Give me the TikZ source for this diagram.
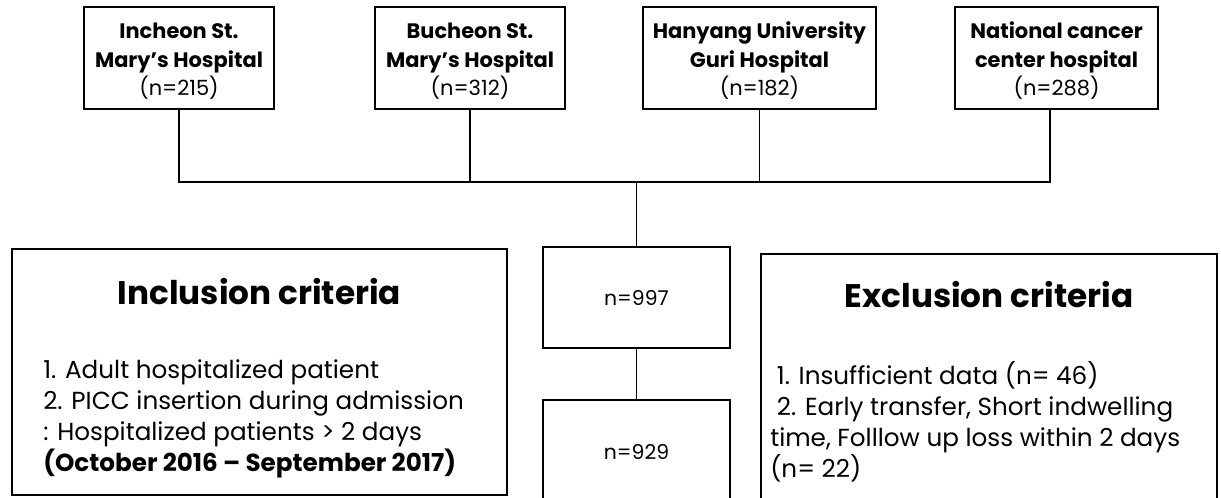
\documentclass[tikz,border=0pt]{standalone}
\usepackage{fontspec}
\setmainfont{Poppins}
\usetikzlibrary{positioning}

\begin{document}
\begin{tikzpicture}[x=0.75pt, y=-0.75pt,
    site/.style={draw, line width=1.3pt, minimum height=76.5pt, align=center,
                 font=\fontsize{15.7}{21.4}\selectfont, inner sep=0pt},
    count/.style={draw, line width=1.3pt, minimum width=140pt, align=center,
                  font=\fontsize{15.3}{18}\selectfont, inner sep=0pt},
    critbox/.style={draw, line width=1.3pt, inner sep=0pt},
    crittitle/.style={font=\bfseries\fontsize{24.5}{28}\selectfont, inner sep=0pt},
    critbody/.style={align=left, anchor=north west, inner sep=0pt, font=\fontsize{18.5}{23.25}\selectfont},
    link/.style={line width=0.8pt}]

        \useasboundingbox (0,0) rectangle (1221,497);

        % Hospitals
        \node[site, minimum width=142.5pt] (inch) at (179,58) {\rule{0pt}{17pt}\textbf{Incheon St.}\\\textbf{Mary's Hospital}\\(n=215)};
        \node[site, minimum width=142.5pt] (buch) at (470,58) {\rule{0pt}{17pt}\textbf{Bucheon St.}\\\textbf{Mary's Hospital}\\(n=312)};
        \node[site, minimum width=174.75pt] (guri) at (759.5,58) {\rule{0pt}{17pt}\textbf{Hanyang University}\\\textbf{Guri Hospital}\\(n=182)};
        \node[site, minimum width=152.25pt] (ncc) at (1056.5,58) {\rule{0pt}{17pt}\textbf{National cancer}\\\textbf{center hospital}\\(n=288)};

        % Junctions
        \coordinate (hub) at (636.5,182);
        \coordinate (nccdrop) at (1050,182);

        % Counts
        \node[count, minimum height=75.75pt] (total) at (636.5,297.5) {n=997};
        \node[count, minimum height=78pt] (final) at (636.5,452) {n=929};

        % Criteria boxes
        \node[critbox, minimum width=371.25pt, minimum height=184.5pt] (incl) at (259.5,372) {};
        \node[critbox, minimum width=342pt, minimum height=195pt] (excl) at (989,384) {};

        \node[crittitle] (incltitle) at (259.5,292) {Inclusion criteria};
        \node[crittitle] (excltitle) at (989,295) {Exclusion criteria};

        \node[critbody] (inclbody) at (43,359) {1. Adult hospitalized patient\\2. PICC insertion during admission\\: Hospitalized patients > 2 days\\\textbf{(October 2016 -- September 2017)}};
        \node[critbody] (exclbody) at (770,361) {\ 1. Insufficient data (n= 46)\\\ 2. Early transfer, Short indwelling\\time, Folllow up loss within 2 days\\(n= 22)};

        % Connections
        \draw[link] (inch.south) |- (nccdrop) -- (ncc.south -| nccdrop);
        \draw[link] (buch.south) -- (buch.south |- hub);
        \draw[link] (guri.south) -- (guri.south |- hub);
        \draw[link] (hub) -- (total.north);
        \draw[link] (total.south) -- (final.north);

    \end{tikzpicture}
\end{document}
